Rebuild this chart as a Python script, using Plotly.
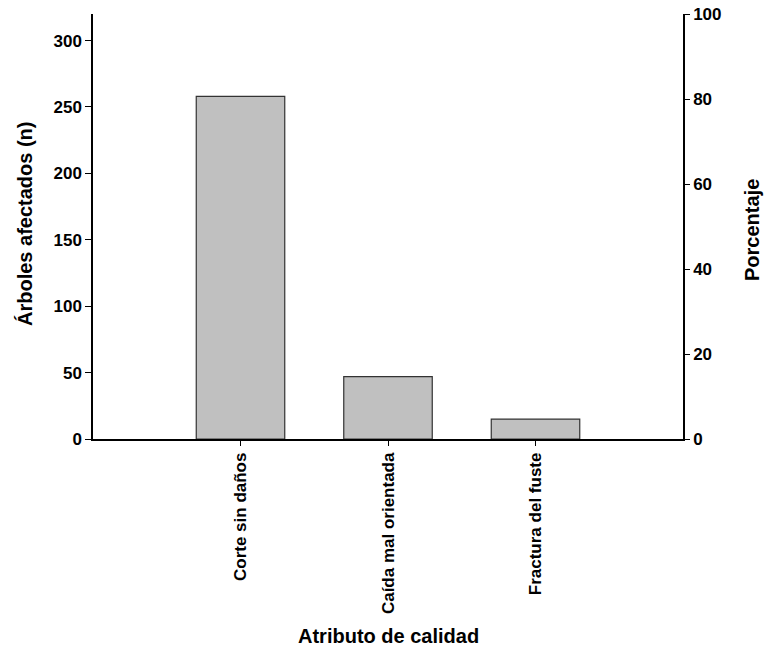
import plotly.graph_objects as go

categories = ["Corte sin daños", "Caída mal orientada", "Fractura del fuste"]
counts = [258, 47, 15]
total = 320
percent = [c / total * 100 for c in counts]

left_ticks = [0, 50, 100, 150, 200, 250, 300]
right_ticks = [0, 20, 40, 60, 80, 100]

FONT = "Liberation Sans, Arial, sans-serif"
W, H = 767, 652
L, R, T, B = 93, 84, 14, 213
PW, PH = W - L - R, H - T - B

def px_x(px):
    return (px - L) / PW

def px_y(py):
    return (H - B - py) / PH

fig = go.Figure()
fig.add_trace(go.Bar(
    x=categories, y=counts, width=0.6,
    marker=dict(color="#c0c0c0", line=dict(color="#333333", width=1.2)),
    showlegend=False, hoverinfo="x+y",
))
fig.add_trace(go.Scatter(
    x=categories, y=percent, yaxis="y2", mode="markers",
    marker=dict(opacity=0), showlegend=False, hoverinfo="skip",
))

common = dict(showline=True, linecolor="black", linewidth=1.5,
              tickcolor="black", tickwidth=1, showgrid=False, zeroline=False,
              automargin=False, tickfont=dict(size=17, weight="bold"))

fig.update_layout(
    width=W, height=H,
    margin=dict(l=L, r=R, t=T, b=B, autoexpand=False),
    paper_bgcolor="white", plot_bgcolor="white",
    font=dict(family=FONT, size=17, color="black", weight="bold"),
    xaxis=dict(type="category", range=[-1, 3], ticks="outside", ticklen=5,
               tickangle=-90, **common),
    yaxis=dict(range=[0, 320], tickvals=left_ticks, ticks="outside", ticklen=6, **common),
    yaxis2=dict(range=[0, 100], tickvals=right_ticks, overlaying="y", side="right",
                ticks="outside", ticklen=5, **common),
    annotations=[
        dict(text="Atributo de calidad", xref="paper", yref="paper",
             x=px_x(388), y=px_y(636), showarrow=False, xanchor="center", yanchor="middle",
             font=dict(size=20, weight="bold")),
        dict(text="Árboles afectados (n)", xref="paper", yref="paper", textangle=-90,
             x=px_x(25), y=px_y(224), showarrow=False, xanchor="center", yanchor="middle",
             font=dict(size=20, weight="bold")),
        dict(text="Porcentaje", xref="paper", yref="paper", textangle=-90,
             x=px_x(752), y=px_y(230), showarrow=False, xanchor="center", yanchor="middle",
             font=dict(size=20, weight="bold")),
    ],
)

fig.write_html("out.html", config={"displayModeBar": False},
               post_script="document.body.style.margin='0';document.body.style.padding='0';")
